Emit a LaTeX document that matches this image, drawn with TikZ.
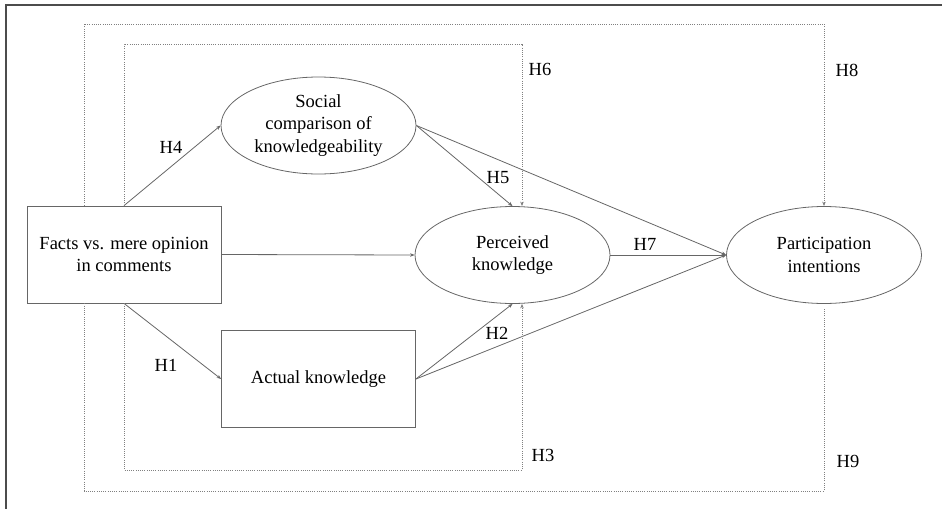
\documentclass[tikz,border=0pt]{standalone}
\usepackage{fontspec}
\setmainfont{Liberation Serif}
\usetikzlibrary{shapes.geometric,arrows.meta}
\begin{document}
\begin{tikzpicture}[x=1pt,y=-1pt,
    >={Stealth[length=4.5pt,width=3.5pt]},
    every node/.style={font=\fontsize{18.5}{22.5}\selectfont},
    latent/.style={draw=black!60,line width=0.8pt,ellipse,minimum width=195pt,minimum height=97pt,inner sep=0pt,align=center},
    observed/.style={draw=black!60,line width=0.8pt,rectangle,minimum width=194pt,minimum height=97pt,inner sep=0pt,align=center},
    path/.style={black!60,line width=0.8pt},
    hyp/.style={black!50,line width=0.7pt,dash pattern=on 1pt off 1.2pt}]
  \useasboundingbox (0,0) rectangle (942,509);
  \draw[black!70,line width=2pt] (942,5) -- (6,5) -- (6,509);
  \draw
    (124,254.5) node[observed] (facts){Facts vs. mere opinion\\in comments}
    (318.5,125.5) node[latent] (social){Social\\comparison of\\knowledgeability}
    (512.5,255) node[latent] (perceived){Perceived\\knowledge}
    (824,255) node[latent] (participation){Participation\\intentions}
    (318.5,379) node[observed] (actual){Actual knowledge};
  \coordinate (inTR) at (522,44);
  \coordinate (inBR) at (522,470);
  \coordinate (outTL) at (84,24);
  \coordinate (outTR) at (824,24);
  \coordinate (outBL) at (84,491);
  \coordinate (outBR) at (824,491);
  \begin{scope}[->,path]
    \draw (facts.north) to (social.west);
    \draw (social.east) to (perceived.north);
    \draw (social.east) to (participation.west);
    \draw (facts.east) to (perceived.west);
    \draw (perceived.east) to (participation.west);
    \draw (facts.south) to (actual.west);
    \draw (actual.east) to (perceived.south);
    \draw (actual.east) to (participation.west);
  \end{scope}
  \begin{scope}[hyp]
    \draw[->] (facts.north) |- (inTR) -- (inTR |- perceived.north);
    \draw[->] (facts.south) |- (inBR) -- (inBR |- perceived.south);
    \draw[->] (outTL |- facts.north) -- (outTL) -- (outTR) -- (participation.north);
    \draw (outBL |- facts.south) -- (outBL) -- (outBR) -- ([yshift=-5pt]participation.south);
  \end{scope}
  \draw
    (166,365) node (H1){H1}
    (497,333) node (H2){H2}
    (543,455) node (H3){H3}
    (171,147) node (H4){H4}
    (498,178) node (H5){H5}
    (540,69) node (H6){H6}
    (645,244) node (H7){H7}
    (847,70) node (H8){H8}
    (848,461) node (H9){H9};
\end{tikzpicture}
\end{document}
